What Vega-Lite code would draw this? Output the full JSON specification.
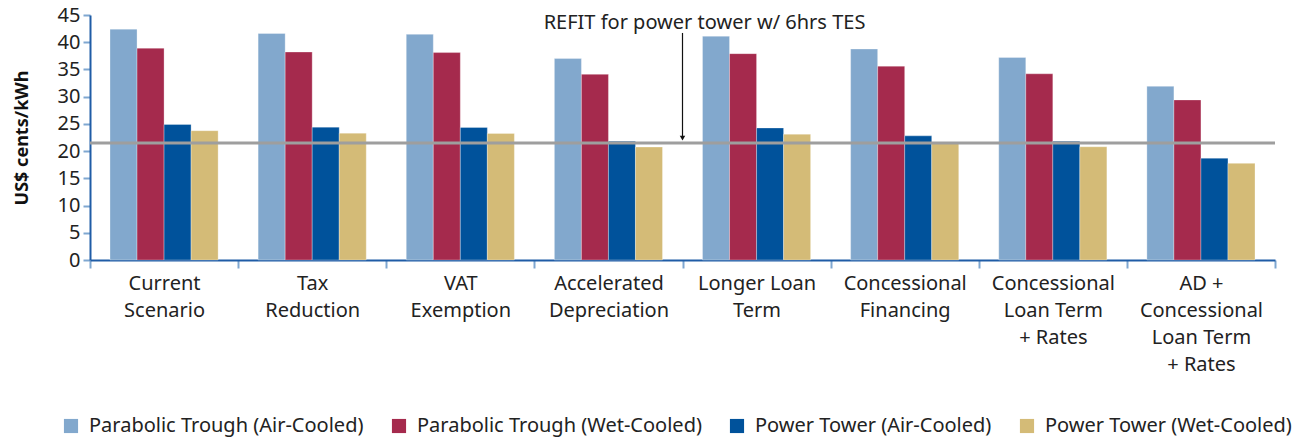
{
  "$schema": "https://vega.github.io/schema/vega-lite/v6.json",
  "autosize": {"type": "none"},
  "padding": {"left": 90, "top": 15, "right": 28, "bottom": 179},
  "width": 1185,
  "height": 245,
  "config": {
    "view": {"stroke": null},
    "font": "Noto Sans"
  },
  "datasets": {
    "bars": [
      {"scenario": "Current Scenario", "series": "Parabolic Trough (Air-Cooled)", "value": 42.4},
      {"scenario": "Current Scenario", "series": "Parabolic Trough (Wet-Cooled)", "value": 38.9},
      {"scenario": "Current Scenario", "series": "Power Tower (Air-Cooled)", "value": 24.9},
      {"scenario": "Current Scenario", "series": "Power Tower (Wet-Cooled)", "value": 23.75},
      {"scenario": "Tax Reduction", "series": "Parabolic Trough (Air-Cooled)", "value": 41.6},
      {"scenario": "Tax Reduction", "series": "Parabolic Trough (Wet-Cooled)", "value": 38.2},
      {"scenario": "Tax Reduction", "series": "Power Tower (Air-Cooled)", "value": 24.4},
      {"scenario": "Tax Reduction", "series": "Power Tower (Wet-Cooled)", "value": 23.3},
      {"scenario": "VAT Exemption", "series": "Parabolic Trough (Air-Cooled)", "value": 41.45},
      {"scenario": "VAT Exemption", "series": "Parabolic Trough (Wet-Cooled)", "value": 38.1},
      {"scenario": "VAT Exemption", "series": "Power Tower (Air-Cooled)", "value": 24.35},
      {"scenario": "VAT Exemption", "series": "Power Tower (Wet-Cooled)", "value": 23.25},
      {"scenario": "Accelerated Depreciation", "series": "Parabolic Trough (Air-Cooled)", "value": 37.0},
      {"scenario": "Accelerated Depreciation", "series": "Parabolic Trough (Wet-Cooled)", "value": 34.1},
      {"scenario": "Accelerated Depreciation", "series": "Power Tower (Air-Cooled)", "value": 21.8},
      {"scenario": "Accelerated Depreciation", "series": "Power Tower (Wet-Cooled)", "value": 20.75},
      {"scenario": "Longer Loan Term", "series": "Parabolic Trough (Air-Cooled)", "value": 41.1},
      {"scenario": "Longer Loan Term", "series": "Parabolic Trough (Wet-Cooled)", "value": 37.9},
      {"scenario": "Longer Loan Term", "series": "Power Tower (Air-Cooled)", "value": 24.25},
      {"scenario": "Longer Loan Term", "series": "Power Tower (Wet-Cooled)", "value": 23.1},
      {"scenario": "Concessional Financing", "series": "Parabolic Trough (Air-Cooled)", "value": 38.75},
      {"scenario": "Concessional Financing", "series": "Parabolic Trough (Wet-Cooled)", "value": 35.6},
      {"scenario": "Concessional Financing", "series": "Power Tower (Air-Cooled)", "value": 22.8},
      {"scenario": "Concessional Financing", "series": "Power Tower (Wet-Cooled)", "value": 21.4},
      {"scenario": "Concessional Loan Term + Rates", "series": "Parabolic Trough (Air-Cooled)", "value": 37.2},
      {"scenario": "Concessional Loan Term + Rates", "series": "Parabolic Trough (Wet-Cooled)", "value": 34.2},
      {"scenario": "Concessional Loan Term + Rates", "series": "Power Tower (Air-Cooled)", "value": 21.8},
      {"scenario": "Concessional Loan Term + Rates", "series": "Power Tower (Wet-Cooled)", "value": 20.8},
      {"scenario": "AD + Concessional Loan Term + Rates", "series": "Parabolic Trough (Air-Cooled)", "value": 31.9},
      {"scenario": "AD + Concessional Loan Term + Rates", "series": "Parabolic Trough (Wet-Cooled)", "value": 29.4},
      {"scenario": "AD + Concessional Loan Term + Rates", "series": "Power Tower (Air-Cooled)", "value": 18.7},
      {"scenario": "AD + Concessional Loan Term + Rates", "series": "Power Tower (Wet-Cooled)", "value": 17.75}
    ],
    "arrow": [{"scenario": "Longer Loan Term", "value": 41.7, "bottom": 22.6}],
    "tip": [{"scenario": "Longer Loan Term", "value": 22.4}],
    "note": [{"scenario": "Longer Loan Term", "value": 43.6, "label": "REFIT for power tower w/ 6hrs TES"}],
    "refit": [{"value": 21.5}]
  },
  "encoding": {
    "y": {
      "field": "value", "type": "quantitative",
      "scale": {"domain": [0, 45], "nice": false},
      "axis": {
        "title": "US$ cents/kWh",
        "titleFontSize": 18,
        "titleFontWeight": "bold",
        "titleColor": "#111111",
        "titlePadding": 26,
        "values": [0, 5, 10, 15, 20, 25, 30, 35, 40, 45],
        "labelOverlap": false,
        "grid": false,
        "labelFontSize": 20,
        "labelColor": "#222222",
        "labelPadding": 3,
        "domainColor": "#1f5ca6",
        "domainWidth": 2,
        "tickColor": "#7fa7d0",
        "tickWidth": 2,
        "tickSize": 7
      }
    }
  },
  "layer": [
    {
      "data": {"name": "bars"},
      "mark": {"type": "bar", "stroke": "#ffffff", "strokeWidth": 0.6, "strokeOpacity": 0.5},
      "encoding": {
        "x": {
          "field": "scenario", "type": "nominal",
          "scale": {
            "domain": ["Current Scenario", "Tax Reduction", "VAT Exemption", "Accelerated Depreciation", "Longer Loan Term", "Concessional Financing", "Concessional Loan Term + Rates", "AD + Concessional Loan Term + Rates"],
            "paddingInner": 0, "paddingOuter": 0
          },
          "axis": {
            "title": null,
            "labelAngle": 0,
            "tickBand": "extent",
            "labelExpr": "{'Current Scenario':['Current','Scenario'],'Tax Reduction':['Tax','Reduction'],'VAT Exemption':['VAT','Exemption'],'Accelerated Depreciation':['Accelerated','Depreciation'],'Longer Loan Term':['Longer Loan','Term'],'Concessional Financing':['Concessional','Financing'],'Concessional Loan Term + Rates':['Concessional','Loan Term','+ Rates'],'AD + Concessional Loan Term + Rates':['AD +','Concessional','Loan Term','+ Rates']}[datum.label]",
            "labelFontSize": 20,
            "labelLineHeight": 27,
            "labelBaseline": "top",
            "labelPadding": 5,
            "labelColor": "#222222",
            "labelLimit": 0,
            "domainColor": "#1f5ca6",
            "domainWidth": 2,
            "tickColor": "#7fa7d0",
            "tickWidth": 2,
            "tickSize": 8
          }
        },
        "xOffset": {
          "field": "series", "type": "nominal",
          "sort": ["Parabolic Trough (Air-Cooled)", "Parabolic Trough (Wet-Cooled)", "Power Tower (Air-Cooled)", "Power Tower (Wet-Cooled)"],
          "scale": {"paddingInner": 0, "paddingOuter": 0.74}
        },
        "color": {
          "field": "series", "type": "nominal",
          "scale": {
            "domain": ["Parabolic Trough (Air-Cooled)", "Parabolic Trough (Wet-Cooled)", "Power Tower (Air-Cooled)", "Power Tower (Wet-Cooled)"],
            "range": ["#82a8cd", "#a52a4d", "#00529b", "#d4bb77"]
          },
          "legend": {
            "title": null,
            "orient": "none",
            "direction": "horizontal",
            "legendX": -29,
            "legendY": 401,
            "columns": 4,
            "columnPadding": 25,
            "symbolType": "square",
            "symbolSize": 200,
            "symbolStrokeWidth": 0,
            "labelFontSize": 20,
            "labelColor": "#222222",
            "labelOffset": 8,
            "labelLimit": 0
          }
        }
      }
    },
    {
      "data": {"name": "refit"},
      "mark": {"type": "rule", "color": "#9e9e9e", "strokeWidth": 3},
      "encoding": {}
    },
    {
      "data": {"name": "arrow"},
      "mark": {"type": "rule", "color": "#111111", "strokeWidth": 1.2},
      "encoding": {
        "x": {"field": "scenario", "type": "nominal", "bandPosition": 0},
        "y2": {"field": "bottom"}
      }
    },
    {
      "data": {"name": "tip"},
      "mark": {"type": "point", "shape": "triangle-down", "filled": true, "color": "#111111", "size": 30, "opacity": 1},
      "encoding": {
        "x": {"field": "scenario", "type": "nominal", "bandPosition": 0}
      }
    },
    {
      "data": {"name": "note"},
      "mark": {"type": "text", "fontSize": 20, "color": "#222222", "dx": 22, "align": "center", "baseline": "middle"},
      "encoding": {
        "x": {"field": "scenario", "type": "nominal", "bandPosition": 0},
        "text": {"field": "label"}
      }
    }
  ]
}
